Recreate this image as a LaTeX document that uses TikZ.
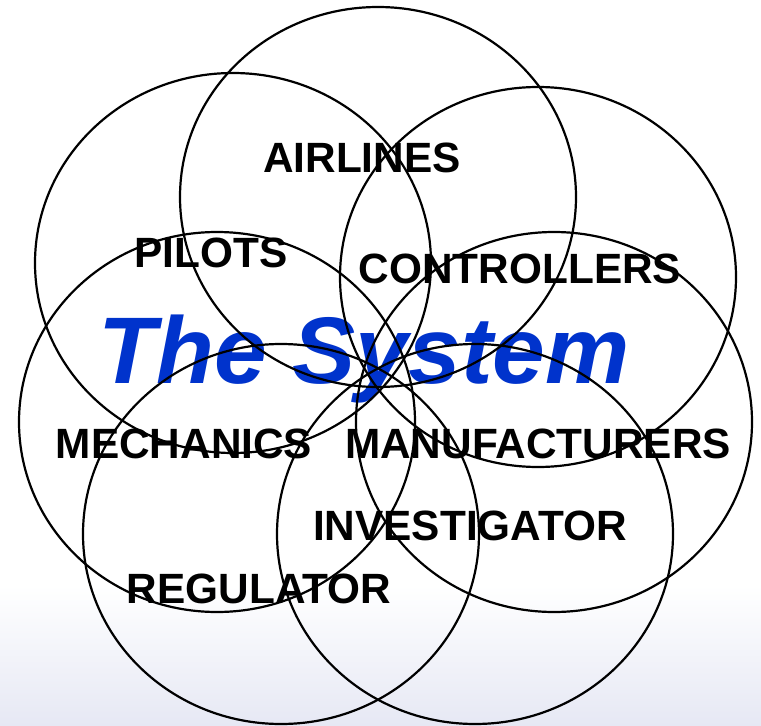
\documentclass[tikz,border=0pt]{standalone}
\usepackage{fontspec}
\setmainfont{Liberation Sans}
\definecolor{lav}{RGB}{230,232,244}
\definecolor{sysblue}{RGB}{0,51,204}
\begin{document}
\begin{tikzpicture}[x=1bp,y=-1bp,
  ring/.style={draw=black,line width=2.2bp},
  lbl/.style={font=\fontsize{42.5}{48}\selectfont\bfseries,anchor=base,inner sep=0pt},
  title/.style={font=\fontsize{95}{110}\selectfont\bfseries\itshape,text=sysblue,anchor=base,inner sep=0pt}]
\useasboundingbox (0,0) rectangle (761,726);
\fill[white] (0,0) rectangle (761,726);
\shade[top color=white,bottom color=lav] (0,585) rectangle (761,726);
% labels
\node[lbl] (airlines) at (362,172) {AIRLINES};
\node[lbl] (pilots) at (211,267) {PILOTS};
\node[lbl] (controllers) at (520,283) {CONTROLLERS};
\node[title] (system) at (364,383) {The System};
\node[lbl] (mechanics) at (184,458) {MECHANICS};
\node[lbl] (manufacturers) at (538,458) {MANUFACTURERS};
\node[lbl] (investigator) at (470,540) {INVESTIGATOR};
\node[lbl] (regulator) at (259,603) {REGULATOR};
% circles
\draw[ring] (378,197) ellipse [x radius=198,y radius=190];
\draw[ring] (233,263) ellipse [x radius=198,y radius=190];
\draw[ring] (538,277) ellipse [x radius=198,y radius=190];
\draw[ring] (217,422) ellipse [x radius=198,y radius=190];
\draw[ring] (554,422) ellipse [x radius=198,y radius=190];
\draw[ring] (281,534) ellipse [x radius=198,y radius=190];
\draw[ring] (475,534) ellipse [x radius=198,y radius=190];
\end{tikzpicture}
\end{document}
